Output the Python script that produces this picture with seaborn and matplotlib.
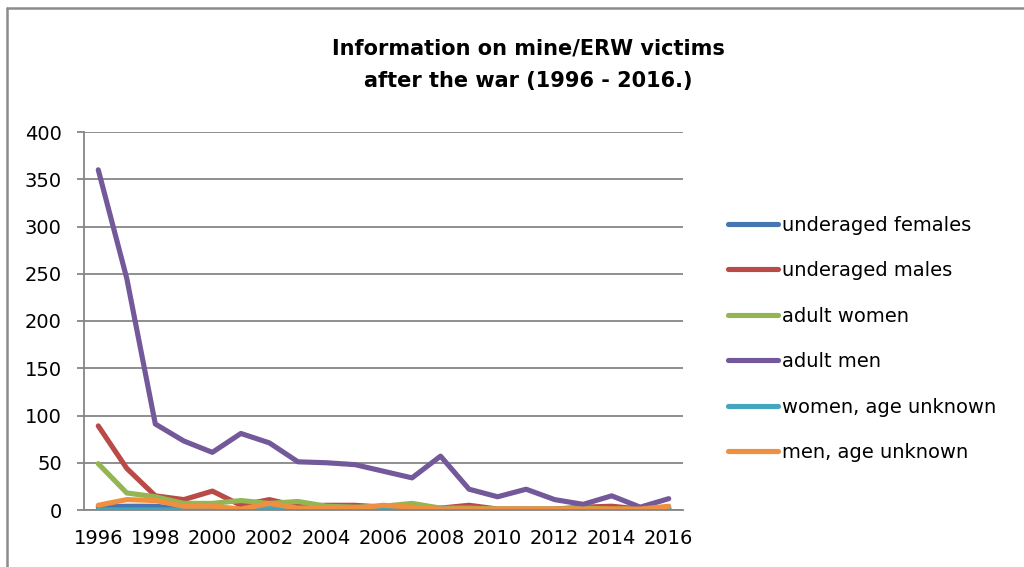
import matplotlib
matplotlib.use("Agg")
import matplotlib.pyplot as plt
import seaborn as sns
import pandas as pd
from matplotlib.lines import Line2D

years = list(range(1996, 2017))
underaged_females = [3, 4, 4, 1, 1, 0, 1, 0, 1, 1, 1, 0, 0, 0, 0, 0, 0, 1, 0, 0, 1]
underaged_males = [89, 44, 15, 11, 20, 5, 11, 4, 5, 5, 3, 3, 2, 5, 1, 1, 1, 3, 4, 1, 2]
adult_women = [49, 18, 14, 7, 7, 10, 7, 9, 4, 3, 4, 7, 2, 2, 1, 1, 1, 2, 1, 1, 1]
adult_men = [360, 245, 91, 73, 61, 81, 71, 51, 50, 48, 41, 34, 57, 22, 14, 22, 11, 6, 15, 3, 12]
women_unknown = [0, 0, 0, 0, 0, 0, 3, 0, 0, 0, 4, 1, 1, 0, 0, 0, 0, 0, 0, 0, 2]
men_unknown = [5, 11, 10, 4, 4, 1, 7, 2, 2, 2, 5, 3, 1, 1, 1, 1, 1, 1, 1, 1, 4]

series_names = ["underaged females", "underaged males", "adult women",
                "adult men", "women, age unknown", "men, age unknown"]
series_values = [underaged_females, underaged_males, adult_women,
                 adult_men, women_unknown, men_unknown]
colors = ["#4675B2", "#BA4A47", "#93B552", "#73589A", "#44A5BF", "#F08F40"]

title = "Information on mine/ERW victims\nafter the war (1996 - 2016.)"

rows = []
for name, vals in zip(series_names, series_values):
    for i, (yr, v) in enumerate(zip(years, vals)):
        rows.append({"idx": i, "year": yr, "value": v, "series": name})
df = pd.DataFrame(rows)

sns.set_theme(style="white")
plt.rcParams["font.family"] = ["DejaVu Sans"]
plt.rcParams["text.color"] = "black"
plt.rcParams["xtick.color"] = "black"
plt.rcParams["ytick.color"] = "black"

fig = plt.figure(figsize=(10.24, 5.67), dpi=100)
ax = fig.add_axes([84 / 1024, 57 / 567, (683 - 84) / 1024, (510 - 132) / 567])

LW = 3.7
sns.lineplot(data=df, x="idx", y="value", hue="series", hue_order=series_names,
             palette=colors, linewidth=LW, ax=ax, legend=False,
             solid_capstyle="round", solid_joinstyle="round")

n = len(years)
ax.set_xlim(-0.5, n - 0.5)
ax.set_ylim(0, 400)
ax.set_yticks(range(0, 401, 50))
ax.set_xticks(range(0, n, 2))
ax.set_xticklabels([str(y) for y in years[::2]])
ax.set_xticks([i - 0.5 for i in range(n + 1)], minor=True)
ax.tick_params(axis="x", which="major", length=0, pad=14, labelsize=14, labelcolor="black")
ax.tick_params(axis="x", which="minor", length=5, width=1.3, color="#868686", direction="out")
ax.tick_params(axis="y", length=5, width=1.3, color="#868686", labelsize=14, pad=11,
               left=True, labelcolor="black")
ax.set_xlabel("")
ax.set_ylabel("")
ax.yaxis.grid(True, color="#868686", linewidth=1.3)
ax.set_axisbelow(True)
for s in ["top", "right"]:
    ax.spines[s].set_visible(False)
for s in ["left", "bottom"]:
    ax.spines[s].set_color("#868686")
    ax.spines[s].set_linewidth(1.3)

fig.text(528 / 1024, 1 - 65 / 567, title, ha="center", va="center", color="black",
         fontsize=15, fontweight="bold", linespacing=1.75)

handles = [Line2D([0], [0], color=c, linewidth=LW, solid_capstyle="round") for c in colors]
fig.legend(handles, series_names, loc="upper left",
           bbox_to_anchor=(722 / 1024, 1 - 210 / 567), frameon=False,
           fontsize=14, handlelength=2.6, handletextpad=0.2, labelspacing=1.36,
           borderaxespad=0, borderpad=0.3, labelcolor="black")

fig.add_artist(Line2D([7 / 1024, 7 / 1024], [0, 1 - 8 / 567], color="#8c8c8c",
                      linewidth=1.8, transform=fig.transFigure))
fig.add_artist(Line2D([7 / 1024, 1], [1 - 8 / 567, 1 - 8 / 567], color="#8c8c8c",
                      linewidth=1.8, transform=fig.transFigure))

fig.savefig("out.png", dpi=100)
